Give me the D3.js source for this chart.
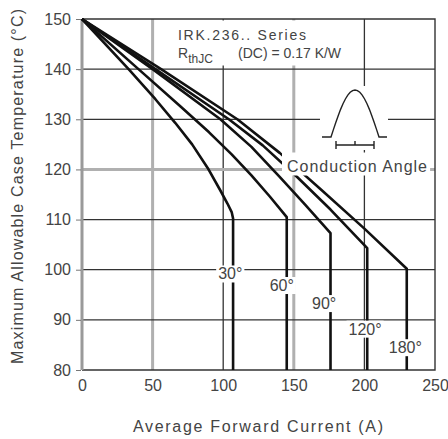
<!DOCTYPE html>
<html>
<head>
<meta charset="utf-8">
<script src="https://cdnjs.cloudflare.com/ajax/libs/d3/7.8.5/d3.min.js"></script>
<style>
  body { margin: 0; background: #fff; }
  text { font-family: "Liberation Sans", Arial, sans-serif; fill: #444; }
</style>
</head>
<body>
<div id="chart"></div>
<script>
// Case temperature derating vs average forward current, one curve per conduction angle.

const xTicks = [0, 50, 100, 150, 200, 250];
const yTicks = [80, 90, 100, 110, 120, 130, 140, 150];
const angles = ['30°', '60°', '90°', '120°', '180°'];

// [current (A), case temperature (°C)]
const curve30  = [[0,150],[33,140],[52,134],[66,129.3],[78,125],[89,120.3],[98,115.8],[103,113.2],[106,111.5],[107,110.2],[107,80]];
const curve60  = [[0,150],[40,140],[70,132.5],[90,127.4],[106,123],[120,118.8],[133,114.6],[145,110.5],[145,80]];
const curve90  = [[0,150],[50,140],[98,130],[120,124.5],[140,118.5],[158,113],[176,107.3],[176,80]];
const curve120 = [[0,150],[52,140],[104,130],[128,124.8],[152,118.6],[176,112],[202,104.3],[202,80]];
const curve180 = [[0,150],[56,140],[110,130],[140,123.3],[170,115.8],[200,108.2],[230,100.2],[230,80]];
const curves = [curve30, curve60, curve90, curve120, curve180];

// where each angle label sits (data coords)
const angleLabelAt = [[105,99.2],[141.5,96.9],[171.5,93.3],[200.5,88.2],[229,84.5]];

const W = 448, H = 439;
const m = { top: 19, right: 13, bottom: 69, left: 82 };

const x = d3.scaleLinear().domain([0, 250]).range([m.left, W - m.right]);
const y = d3.scaleLinear().domain([80, 150]).range([H - m.bottom, m.top]);

const svg = d3.select('#chart').append('svg').attr('width', W).attr('height', H);

// grid — some lines in the scan are light and wide, the rest thin and dark
const softX = new Set([50, 150]);
const softY = new Set([120]);
svg.append('g').selectAll('line').data(xTicks.slice(1, -1)).enter().append('line')
  .attr('x1', d => x(d)).attr('x2', d => x(d))
  .attr('y1', y(150)).attr('y2', y(80))
  .attr('stroke', d => softX.has(d) ? '#b0b0b0' : '#333')
  .attr('stroke-width', d => softX.has(d) ? 3 : 1.3);
svg.append('g').selectAll('line').data(yTicks.slice(1, -1)).enter().append('line')
  .attr('x1', x(0)).attr('x2', x(250))
  .attr('y1', d => y(d)).attr('y2', d => y(d))
  .attr('stroke', d => softY.has(d) ? '#b0b0b0' : '#333')
  .attr('stroke-width', d => softY.has(d) ? 3 : 1.3);

// frame
svg.append('path')
  .attr('d', `M${x(0)},${y(150)}H${x(250)}V${y(80)}H${x(0)}`)
  .attr('fill', 'none').attr('stroke', '#333').attr('stroke-width', 1.4);
svg.append('line')
  .attr('x1', x(0)).attr('x2', x(0)).attr('y1', y(150)).attr('y2', y(80))
  .attr('stroke', '#9a9a9a').attr('stroke-width', 3);

// y ticks + labels
const yAxis = d3.axisLeft(y).tickValues(yTicks).tickSize(5).tickPadding(5);
const ya = svg.append('g').attr('transform', `translate(${x(0) - 1},0)`).call(yAxis);
ya.select('.domain').remove();
ya.selectAll('line').attr('stroke', '#777');
ya.selectAll('text').style('font-size', '16px').attr('fill', '#555');

// x labels
const xAxis = d3.axisBottom(x).tickValues(xTicks).tickSize(0).tickPadding(10);
const xa = svg.append('g').attr('transform', `translate(0,${y(80)})`).call(xAxis);
xa.select('.domain').remove();
xa.selectAll('text').style('font-size', '16px').attr('fill', '#555');

// axis titles
svg.append('text')
  .attr('transform', `translate(23,${(8 + 365) / 2}) rotate(-90)`)
  .attr('text-anchor', 'middle').style('font-size', '16px').attr('fill', '#555')
  .attr('textLength', 355).text('Maximum Allowable Case Temperature (°C)');
svg.append('text')
  .attr('x', 258).attr('y', 432)
  .attr('text-anchor', 'middle').style('font-size', '16px').attr('fill', '#555')
  .attr('textLength', 250).text('Average Forward Current (A)');

// curves
const line = d3.line().x(d => x(d[0])).y(d => y(d[1]));
svg.append('g').selectAll('path').data(curves).enter().append('path')
  .attr('d', line)
  .attr('fill', 'none').attr('stroke', '#111').attr('stroke-width', 2.6)
  .attr('stroke-linejoin', 'round');

// white patch behind a text, like the scan
function knockout(sel, pad) {
  const b = sel.node().getBBox();
  svg.insert('rect', () => sel.node())
    .attr('x', b.x - pad[3]).attr('y', b.y - pad[0])
    .attr('width', b.width + pad[1] + pad[3]).attr('height', b.height + pad[0] + pad[2])
    .attr('fill', '#fff');
}

// angle labels
angles.forEach((a, i) => {
  const p = angleLabelAt[i];
  const t = svg.append('text')
    .attr('x', x(p[0])).attr('y', y(p[1])).attr('dy', '0.36em')
    .attr('text-anchor', 'middle').style('font-size', '16px').attr('fill', '#555')
    .text(a);
  knockout(t, [0, 2, 0, 2]);
});

// series annotation
const note = svg.append('g');
note.append('text').attr('x', 178).attr('y', 40).style('font-size', '14px')
  .attr('textLength', 128).text('IRK.236.. Series');
const r = note.append('text').attr('x', 178).attr('y', 58).style('font-size', '14px');
r.append('tspan').text('R');
r.append('tspan').attr('dy', 5).style('font-size', '12px').text('thJC');
r.append('tspan').attr('x', 238).attr('dy', -5).text('(DC) = 0.17 K/W');
{
  const b = note.node().getBBox();
  svg.insert('rect', () => note.node())
    .attr('x', b.x - 8).attr('y', y(150) + 1.5)
    .attr('width', b.width + 22).attr('height', b.y + b.height - y(150) - 2)
    .attr('fill', '#fff');
}

// conduction angle label
const ca = svg.append('text').attr('x', 287).attr('y', 171.5)
  .style('font-size', '16px').attr('textLength', 140).text('Conduction Angle');
knockout(ca, [5, 3, 1, 5]);

// half-sine pulse icon
const base = 137, x0 = 331, x1 = 379, peak = 90;
svg.append('rect').attr('x', 320).attr('y', 86).attr('width', 68).attr('height', 64).attr('fill', '#fff');
const pulse = d3.range(0, 1.0001, 0.05).map(t => [x0 + t * (x1 - x0), base - Math.sin(Math.PI * t) * (base - peak)]);
const icon = svg.append('g').attr('fill', 'none').attr('stroke', '#222').attr('stroke-width', 1.4);
icon.append('path').attr('d', d3.line()([[322, base], ...pulse, [387, base]]));
icon.append('path').attr('d', `M336,141V149M336,145H374M374,141V149M355,145V141`);
</script>
</body>
</html>
